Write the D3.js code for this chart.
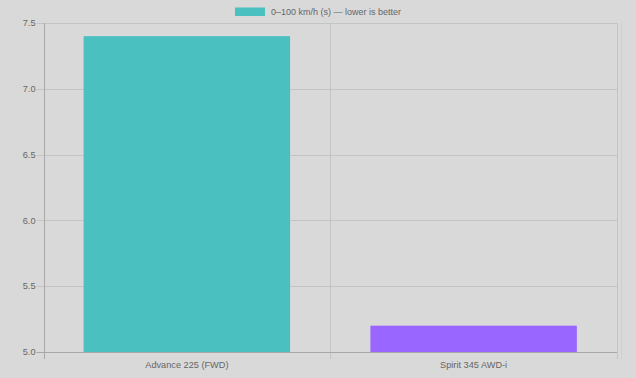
<!DOCTYPE html>
<html><head><meta charset="utf-8">
<script src="https://cdn.jsdelivr.net/npm/d3@7"></script>
<style>html,body{margin:0;padding:0;background:#d9d9d9;}svg{display:block;}</style>
</head><body>
<script>
const categories = ["Advance 225 (FWD)", "Spirit 345 AWD-i"];
const values = [7.4, 5.2];
const colors = ["#4bc0c0", "#9966ff"];
const seriesLabel = "0–100 km/h (s) — lower is better";
const yTicks = [5.0, 5.5, 6.0, 6.5, 7.0, 7.5];

const W = 636, H = 378;
const m = {left: 43.5, right: 19, top: 23, bottom: 26};
const font = "'Liberation Sans', Arial, Helvetica, sans-serif";
const svg = d3.select("body").append("svg").attr("width", W).attr("height", H);
svg.append("rect").attr("width", W).attr("height", H).attr("fill", "#d9d9d9");

const x = d3.scaleBand().domain(categories).range([m.left, W - m.right]).paddingInner(0).paddingOuter(0);
const y = d3.scaleLinear().domain([5.0, 7.5]).range([H - m.bottom, m.top]);

const grid = "#c4c4c4";
// horizontal gridlines
svg.append("g").selectAll("line").data(yTicks).join("line")
  .attr("x1", m.left - 7).attr("x2", W - m.right)
  .attr("y1", d => Math.round(y(d)) + 0.5).attr("y2", d => Math.round(y(d)) + 0.5)
  .attr("stroke", grid).attr("stroke-width", 1);
// vertical gridlines (category boundaries)
const bounds = [x(categories[0]), x(categories[1]), x(categories[1]) + x.bandwidth()];
svg.append("g").selectAll("line").data(bounds).join("line")
  .attr("x1", d => Math.round(d) + 0.5).attr("x2", d => Math.round(d) + 0.5)
  .attr("y1", m.top).attr("y2", H - m.bottom + 7)
  .attr("stroke", grid).attr("stroke-width", 1);
svg.append("line").attr("x1", W - m.right + 4.5).attr("x2", W - m.right + 4.5)
  .attr("y1", m.top).attr("y2", H - m.bottom + 7).attr("stroke", "#cfcfcf");

// bars
const barW = x.bandwidth() * 0.72;
svg.append("g").selectAll("rect").data(values).join("rect")
  .attr("x", (d, i) => x(categories[i]) + (x.bandwidth() - barW) / 2)
  .attr("width", barW)
  .attr("y", d => y(d))
  .attr("height", d => y(5.0) - y(d))
  .attr("fill", (d, i) => colors[i]);

// axis lines
svg.append("line").attr("x1", Math.round(m.left) + 0.5).attr("x2", Math.round(m.left) + 0.5)
  .attr("y1", m.top).attr("y2", H - m.bottom + 7).attr("stroke", "#a8a8a8");
svg.append("line").attr("x1", m.left - 7).attr("x2", W - m.right)
  .attr("y1", Math.round(y(5.0)) + 0.5).attr("y2", Math.round(y(5.0)) + 0.5).attr("stroke", "#a8a8a8");

// y labels
svg.append("g").selectAll("text").data(yTicks).join("text")
  .attr("x", m.left - 8).attr("y", d => y(d)).attr("dy", "0.35em")
  .attr("text-anchor", "end").attr("font-family", font).attr("font-size", 9.2)
  .attr("fill", "#666").text(d => d.toFixed(1));

// x labels
svg.append("g").selectAll("text").data(categories).join("text")
  .attr("x", d => x(d) + x.bandwidth() / 2).attr("y", H - m.bottom + 13).attr("dy", "0.35em")
  .attr("text-anchor", "middle").attr("font-family", font).attr("font-size", 9.2)
  .attr("fill", "#666").text(d => d);

// legend
const lg = svg.append("g");
const lt = lg.append("text").attr("font-family", font).attr("font-size", 9).attr("fill", "#666")
  .attr("y", 12).attr("dy", "0.35em").text(seriesLabel);
const tw = lt.node().getComputedTextLength();
const total = 30 + 6 + tw;
const lx = W / 2 - total / 2;
lg.append("rect").attr("x", lx).attr("y", 7.5).attr("width", 30).attr("height", 8.5).attr("fill", colors[0]);
lt.attr("x", lx + 36);
</script>
</body></html>
